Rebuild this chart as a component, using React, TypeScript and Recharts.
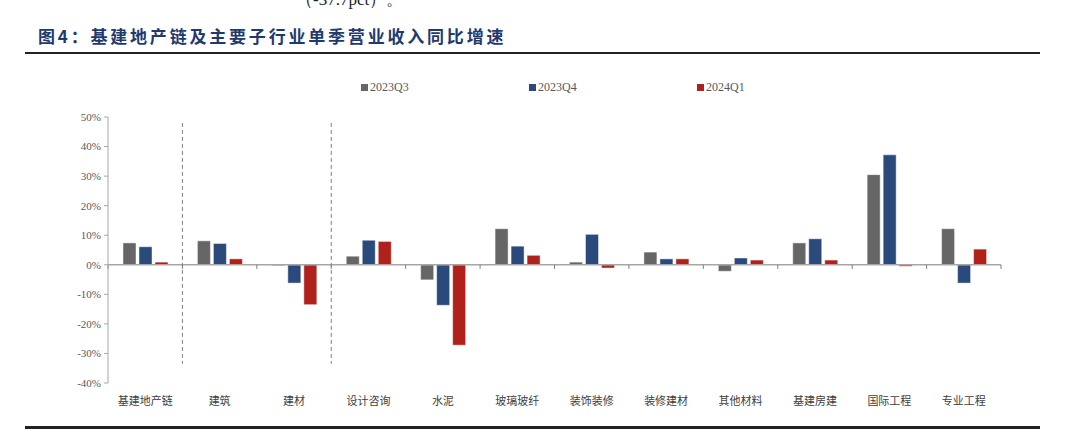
import React from 'react';
import { BarChart, Bar, XAxis, YAxis, ReferenceLine } from 'recharts';

// categories on the x axis
const categories = [
  '基建地产链', '建筑', '建材', '设计咨询', '水泥', '玻璃玻纤',
  '装饰装修', '装修建材', '其他材料', '基建房建', '国际工程', '专业工程',
];

// single-quarter revenue growth yoy, %
const q3_2023 = [7.4, 8.1, -0.3, 2.9, -5.1, 12.2, 0.9, 4.3, -2.2, 7.4, 30.5, 12.2];
const q4_2023 = [6.1, 7.2, -6.2, 8.3, -13.7, 6.3, 10.3, 2.0, 2.3, 8.8, 37.2, -6.2];
const q1_2024 = [0.9, 2.0, -13.5, 7.9, -27.2, 3.2, -1.1, 2.0, 1.6, 1.6, -0.5, 5.3];

const seriesNames = ['2023Q3', '2023Q4', '2024Q1'];
const seriesColors = ['#666666', '#2A4A7C', '#B0211C'];

const yTicks = [50, 40, 30, 20, 10, 0, -10, -20, -30, -40];

// dashed separators sit before these categories
const dividers = ['建筑', '设计咨询'];

const data = categories.map((name, i) => ({
  name,
  [seriesNames[0]]: q3_2023[i],
  [seriesNames[1]]: q4_2023[i],
  [seriesNames[2]]: q1_2024[i],
}));

const serif = '"Liberation Serif", "Times New Roman", serif';
const cjk = '"Noto Sans CJK SC", sans-serif';

const App = () => {
  return (
    <div
      style={{
        position: 'absolute',
        left: 0,
        top: 0,
        width: 1077,
        height: 435,
        background: '#fff',
        overflow: 'hidden',
      }}
    >
      {/* tail of the previous paragraph, clipped at the top like the source */}
      <div
        style={{
          position: 'absolute',
          left: 296,
          top: -12,
          fontFamily: serif,
          fontSize: 17,
          color: '#222',
        }}
      >
        （-37.7pct）。
      </div>

      {/* title */}
      <div
        style={{
          position: 'absolute',
          left: 38,
          top: 23,
          fontFamily: cjk,
          fontSize: 17,
          fontWeight: 600,
          letterSpacing: 2.8,
          color: '#1F3A6E',
          whiteSpace: 'nowrap',
        }}
      >
        图4：基建地产链及主要子行业单季营业收入同比增速
      </div>
      <div
        style={{
          position: 'absolute',
          left: 25,
          top: 52,
          width: 1015,
          height: 2,
          background: '#222',
        }}
      />

      {/* legend */}
      <div
        style={{
          position: 'absolute',
          left: 361,
          top: 80,
          display: 'flex',
          fontFamily: serif,
          fontSize: 12,
          color: '#595959',
        }}
      >
        {seriesNames.map((s, i) => (
          <div key={s} style={{ width: 168, display: 'flex', alignItems: 'center' }}>
            <span
              style={{
                display: 'inline-block',
                width: 7,
                height: 7,
                background: seriesColors[i],
                marginRight: 2,
              }}
            />
            {s}
          </div>
        ))}
      </div>

      <div style={{ position: 'absolute', left: 0, top: 0 }}>
        <BarChart
          width={1077}
          height={435}
          data={data}
          margin={{ top: 117, right: 76, bottom: 22, left: 0 }}
          barGap={3}
          barSize={13}
        >
          <XAxis
            dataKey="name"
            height={30}
            axisLine={false}
            tickLine={false}
            tickSize={5}
            tickMargin={9}
            interval={0}
            tick={{ fontFamily: cjk, fontSize: 11, fill: '#404040' }}
          />
          <YAxis
            width={108}
            domain={[-40, 50]}
            ticks={yTicks}
            interval={0}
            tickFormatter={(v) => `${v}%`}
            axisLine={{ stroke: '#A6A6A6' }}
            tickLine={{ stroke: '#A6A6A6' }}
            tickSize={4}
            tickMargin={3}
            tick={{ fontFamily: serif, fontSize: 11, fill: '#595959' }}
          />
          <ReferenceLine y={0} stroke="#A6A6A6" strokeWidth={1.5} />
          {categories.map((c) => (
            <ReferenceLine
              key={'t' + c}
              segment={[{ x: c, y: 0 }, { x: c, y: -1.4 }]}
              position="start"
              stroke="#7F7F7F"
            />
          ))}
          <ReferenceLine
            segment={[
              { x: categories[categories.length - 1], y: 0 },
              { x: categories[categories.length - 1], y: -1.4 },
            ]}
            position="end"
            stroke="#7F7F7F"
          />
          {dividers.map((c) => (
            <ReferenceLine
              key={'d' + c}
              segment={[{ x: c, y: 48 }, { x: c, y: -33.5 }]}
              position="start"
              stroke="#7F7F7F"
              strokeDasharray="4 3"
            />
          ))}
          {seriesNames.map((s, i) => (
            <Bar
              key={s}
              dataKey={s}
              fill={seriesColors[i]}
              stroke="#ffffff"
              strokeOpacity={0.45}
              isAnimationActive={false}
            />
          ))}
        </BarChart>
      </div>

      {/* bottom rule */}
      <div
        style={{
          position: 'absolute',
          left: 25,
          top: 426,
          width: 1015,
          height: 3,
          background: '#222',
        }}
      />
    </div>
  );
};

export default App;
